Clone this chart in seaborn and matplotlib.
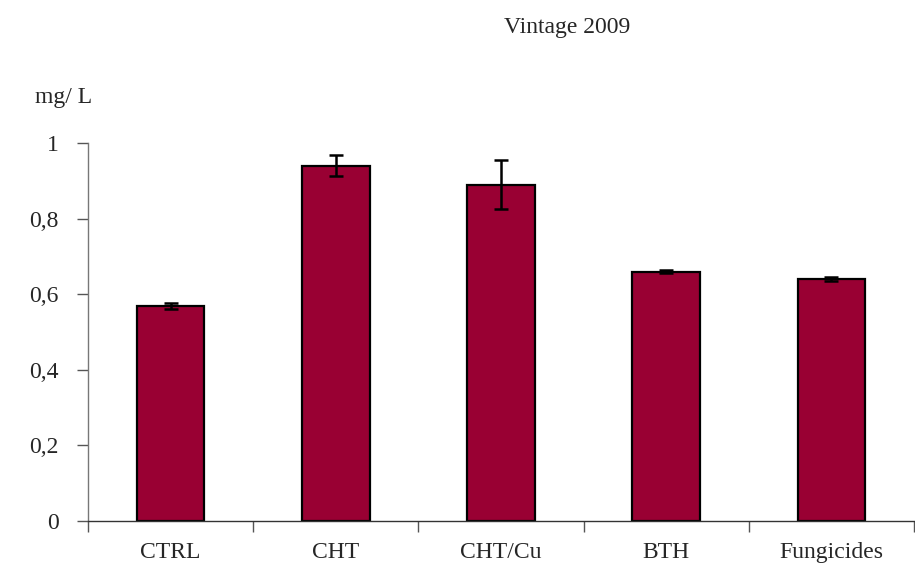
import numpy as np
import pandas as pd
import matplotlib
matplotlib.use("Agg")
import matplotlib.pyplot as plt
import seaborn as sns

# data
treatments = ["CTRL", "CHT", "CHT/Cu", "BTH", "Fungicides"]
values = [0.57, 0.94, 0.89, 0.66, 0.64]
errors = [0.008, 0.028, 0.065, 0.004, 0.006]
yticks = [0, 0.2, 0.4, 0.6, 0.8, 1]
ytick_labels = ["0", "0,2", "0,4", "0,6", "0,8", "1"]

df = pd.DataFrame({"treatment": treatments, "value": values})

sns.set_style("white")
plt.rcParams["font.family"] = ["Liberation Serif", "DejaVu Serif"]

fig = plt.figure(figsize=(9.15, 5.75), dpi=100)
ax = fig.add_axes([0.0962, 0.094, 0.9028, 0.657])

sns.barplot(data=df, x="treatment", y="value", color="#990033", width=0.41,
            edgecolor="black", linewidth=1.6, saturation=1, errorbar=None, ax=ax)
ax.errorbar(np.arange(len(treatments)), values, yerr=errors, fmt="none",
            ecolor="black", elinewidth=1.8, capsize=5, capthick=1.8, zorder=5)

ax.set_ylim(0, 1)
ax.set_xlim(-0.5, len(treatments) - 0.5)
ax.set_yticks(yticks)
ax.set_yticklabels(ytick_labels, fontsize=17)

# category boundaries as major ticks, labels on minor ticks at centres
ax.set_xticks(np.arange(-0.5, len(treatments), 1.0))
ax.set_xticklabels([])
ax.set_xticks(np.arange(len(treatments)), minor=True)
ax.set_xticklabels(treatments, minor=True, fontsize=17)
ax.tick_params(axis="x", which="major", bottom=True, direction="out", length=8,
               color="#555555", width=1)
ax.tick_params(axis="x", which="minor", bottom=True, length=0, pad=15)
ax.tick_params(axis="y", left=True, direction="out", length=8, color="#555555",
               width=1, pad=13)

for s in ["top", "right"]:
    ax.spines[s].set_visible(False)
ax.spines["left"].set_color("#777777")
ax.spines["bottom"].set_color("#333333")
ax.spines["left"].set_linewidth(1)
ax.spines["bottom"].set_linewidth(1)
ax.set_xlabel("")
ax.set_ylabel("")

fig.text(0.62, 0.953, "Vintage 2009", ha="center", va="center", fontsize=17)
fig.text(0.038, 0.831, "mg/ L", ha="left", va="center", fontsize=17)

plt.savefig("out.png", dpi=100)
